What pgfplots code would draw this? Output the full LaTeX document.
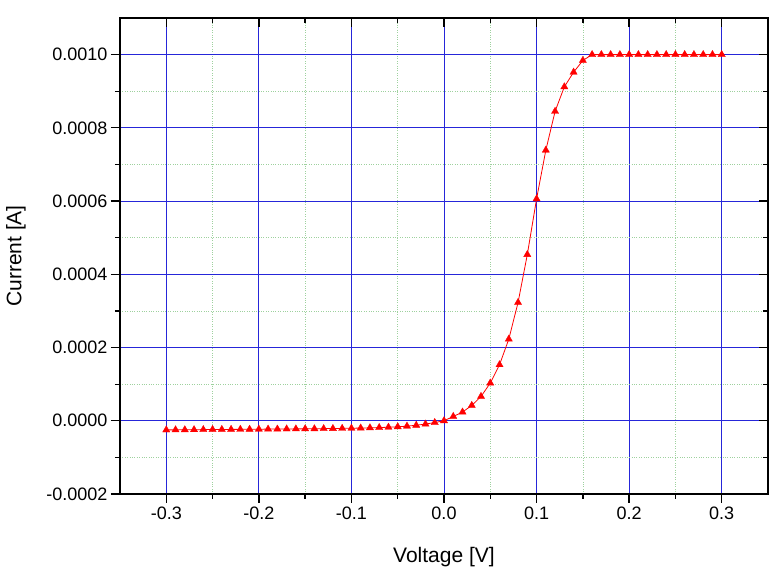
\documentclass[border=0pt]{standalone}
\usepackage{fontspec}
\setmainfont{Liberation Sans}
\usepackage{pgfplots}
\pgfplotsset{compat=1.18}
\usepackage{pgfplotstable}

\definecolor{gridblue}{rgb}{0.15,0.15,0.85}
\definecolor{gridgreen}{rgb}{0.62,0.82,0.62}

\pgfplotstableread{
V I
-0.30 -0.0000250
-0.29 -0.0000248
-0.28 -0.0000246
-0.27 -0.0000244
-0.26 -0.0000242
-0.25 -0.0000240
-0.24 -0.0000238
-0.23 -0.0000236
-0.22 -0.0000234
-0.21 -0.0000232
-0.20 -0.0000230
-0.19 -0.0000228
-0.18 -0.0000226
-0.17 -0.0000224
-0.16 -0.0000222
-0.15 -0.0000220
-0.14 -0.0000218
-0.13 -0.0000215
-0.12 -0.0000212
-0.11 -0.0000208
-0.10 -0.0000204
-0.09 -0.0000199
-0.08 -0.0000193
-0.07 -0.0000186
-0.06 -0.0000176
-0.05 -0.0000164
-0.04 -0.0000147
-0.03 -0.0000123
-0.02 -0.0000090
-0.01 -0.0000049
0.00 0.0000000
0.01 0.0000117
0.02 0.0000238
0.03 0.0000418
0.04 0.0000664
0.05 0.0001030
0.06 0.0001530
0.07 0.0002230
0.08 0.0003230
0.09 0.0004540
0.10 0.0006060
0.11 0.0007390
0.12 0.0008450
0.13 0.0009120
0.14 0.0009520
0.15 0.0009840
0.16 0.0010000
0.17 0.0010000
0.18 0.0010000
0.19 0.0010000
0.20 0.0010000
0.21 0.0010000
0.22 0.0010000
0.23 0.0010000
0.24 0.0010000
0.25 0.0010000
0.26 0.0010000
0.27 0.0010000
0.28 0.0010000
0.29 0.0010000
0.30 0.0010000
}\ivdata

\pgfplotsset{
  ivbase/.style={
    scale only axis, width=648bp, height=476bp,
    xmin=-0.35, xmax=0.35, ymin=-0.0002, ymax=0.0011,
    xtick={-0.3,-0.2,-0.1,0,0.1,0.2,0.3},
    ytick={-0.0002,0,0.0002,0.0004,0.0006,0.0008,0.001},
    minor x tick num=1, minor y tick num=1,
    scaled y ticks=false, scaled x ticks=false,
    axis line style={line width=1.6bp, black},
    major tick length=9bp, minor tick length=5bp,
    every tick/.style={black, line width=1.3bp},
    anchor=south west, at={(0,0)},
  }
}

\begin{document}
\begin{tikzpicture}
\begin{axis}[ivbase,
  tick align=outside, xtick pos=bottom, ytick pos=left,
  grid=both,
  major grid style={gridblue, line width=0.8bp},
  minor grid style={gridgreen, dotted, line width=0.6bp},
  font=\fontsize{18bp}{21bp}\selectfont,
  /pgf/number format/assume math mode=true,
  xticklabel style={/pgf/number format/.cd, fixed, fixed zerofill, precision=1},
  yticklabel style={/pgf/number format/.cd, fixed, fixed zerofill, precision=4},
  xlabel={Voltage [V]}, ylabel={Current [A]},
  label style={font=\fontsize{21bp}{24bp}\selectfont},
  xlabel style={at={(axis description cs:0.5,-0.132)}, anchor=center},
  ylabel style={at={(axis description cs:-0.1605,0.5)}, anchor=center, rotate=0},
]
\addplot[red, line width=0.8bp, mark=triangle*, mark size=4.2bp,
  mark options={fill=red, draw=red, line width=0.3bp}] table[x=V, y=I] {\ivdata};
\end{axis}
\begin{axis}[ivbase,
  tick align=inside, xtick pos=top, ytick pos=right,
  xticklabels={}, yticklabels={},
]
\end{axis}
\pgfresetboundingbox
\path (-120bp,-91bp) rectangle (661bp,494bp);
\end{tikzpicture}
\end{document}
